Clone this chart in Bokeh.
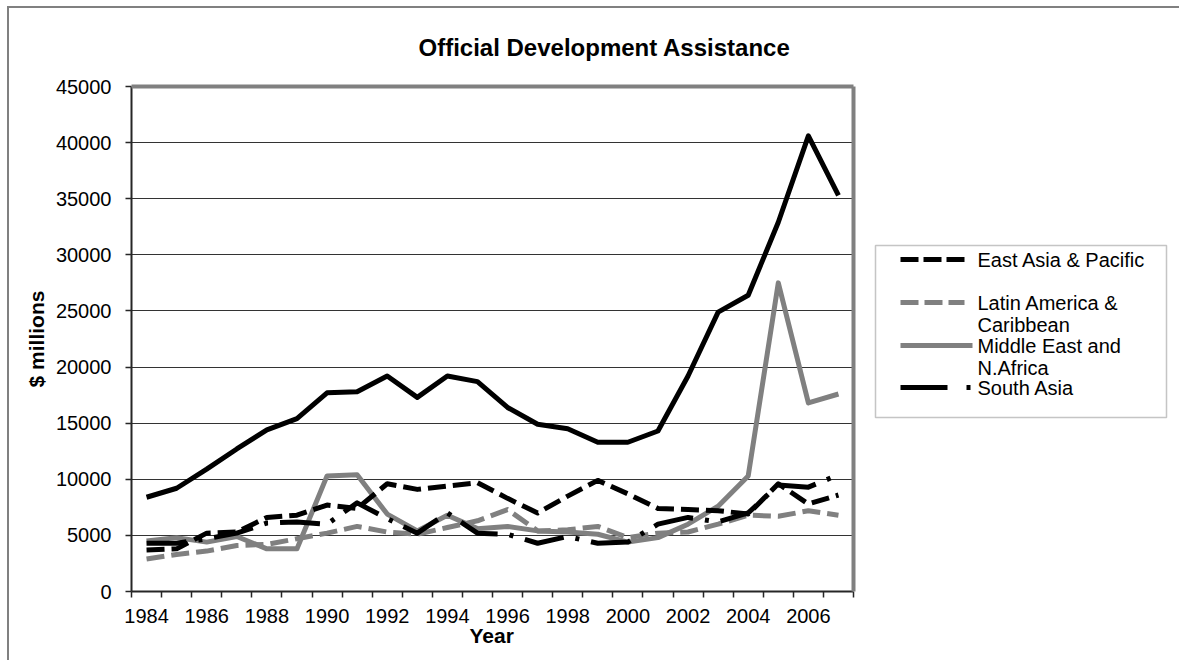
from bokeh.plotting import figure
from bokeh.models import FixedTicker, Label, BoxAnnotation, Arrow, Range1d, Title
from bokeh.embed import file_html
from bokeh.resources import INLINE

# ---------------- data ----------------
years = list(range(1984, 2008))
tick_years = list(range(1984, 2008, 2))
y_ticks = list(range(0, 45001, 5000))

sub_saharan = [8400, 9200, 10900, 12700, 14400, 15400, 17700, 17800, 19200, 17300, 19200, 18700,
               16400, 14900, 14500, 13300, 13300, 14300, 19200, 24900, 26400, 32900, 40600, 35300]
east_asia = [3700, 3800, 5200, 5300, 6600, 6800, 7700, 7400, 9600, 9100, 9400, 9700,
             8300, 7000, 8500, 9900, 8700, 7400, 7300, 7200, 6900, 9600, 7800, 8600]
south_asia = [4300, 4300, 4700, 5200, 6100, 6200, 6000, 7900, 6500, 5200, 7000, 5200,
              5100, 4300, 4900, 4300, 4400, 6000, 6600, 6200, 7000, 9500, 9300, 10400]
latin_america = [2900, 3300, 3600, 4100, 4200, 4700, 5200, 5800, 5300, 5100, 5700, 6300,
                 7300, 5400, 5500, 5800, 4800, 5200, 5300, 6000, 6800, 6700, 7200, 6800]
middle_east = [4500, 4800, 4400, 4900, 3800, 3800, 10300, 10400, 6900, 5400, 6800, 5600,
               5800, 5400, 5300, 5100, 4400, 4800, 6000, 7600, 10300, 27500, 16800, 17600]

legend_lines = [["East Asia & Pacific"], ["Latin America &", "Caribbean"],
                ["Middle East and", "N.Africa"], ["South Asia"]]

FONT = "Liberation Sans"
W, H = 1179, 660
# plot area (in page pixels): left, right, top, bottom
PL, PR, PT, PB = 131, 853, 86, 591
BLACK = "#000000"
GRAY = "#808080"

x0, x1 = years[0] - 0.5, years[-1] + 0.5
y0v, y1v = y_ticks[0], y_ticks[-1]
# the frame extends to the right edge so that the legend can live inside it;
# the plot area itself keeps the x extent x0..x1
x_end = x0 + (x1 - x0) * (W - PL) / (PR - PL)

p = figure(width=W, height=H, output_backend="svg", toolbar_location=None, title=None,
           x_range=Range1d(x0, x_end), y_range=Range1d(y0v, y1v),
           min_border_left=PL, min_border_right=0, min_border_top=PT, min_border_bottom=H - PB)
p.background_fill_color = "white"
p.background_fill_alpha = 1
p.border_fill_alpha = 0
p.outline_line_color = None
# outer chart border (left and top edges): two inset shadows of the host element
p.styles = {"box-shadow": "inset 7px 6px 0 0 #ffffff, inset 9px 8px 0 0 #808080"}

# chart title (left aligned with an offset inside the top panel)
p.add_layout(Title(text="Official Development Assistance", align="left", offset=287,
                   text_font=FONT, text_font_size="24px", text_font_style="bold",
                   text_color=BLACK, standoff=52), "above")
# x axis title, placed below the axis and centred on the plot area
p.add_layout(Title(text="Year", align="left", offset=(PR - PL) / 2 - 23,
                   text_font=FONT, text_font_size="21px", text_font_style="bold",
                   text_color=BLACK, standoff=-7), "below")

# series
p.line(years, sub_saharan, line_color=BLACK, line_width=5, line_join="round")
p.line(years, middle_east, line_color=GRAY, line_width=5, line_join="round")
p.line(years, latin_america, line_color=GRAY, line_width=5, line_dash="18 7", line_join="round")
p.line(years, east_asia, line_color=BLACK, line_width=5, line_dash="18 7", line_join="round")
p.line(years, south_asia, line_color=BLACK, line_width=5, line_dash="40 12 4 12", line_join="round")

# axes
xa = p.xaxis[0]
xa.bounds = (x0, x1)
xa.ticker = FixedTicker(ticks=tick_years, minor_ticks=[y - 0.5 for y in years] + [x1])
xa.major_tick_out = 0
xa.major_tick_in = 0
xa.minor_tick_out = 6
xa.minor_tick_in = 0
xa.minor_tick_line_color = "#262626"
xa.minor_tick_line_width = 1.5
xa.axis_line_color = "#262626"
xa.axis_line_width = 2
xa.major_label_standoff = 11
xa.major_label_text_font = FONT
xa.major_label_text_font_size = "20px"
xa.major_label_text_color = BLACK

ya = p.yaxis[0]
ya.bounds = (y0v, y1v)
ya.ticker = FixedTicker(ticks=y_ticks)
ya.minor_tick_line_color = None
ya.major_tick_out = 6
ya.major_tick_in = 0
ya.major_tick_line_color = "#262626"
ya.major_tick_line_width = 1.5
ya.axis_line_color = "#262626"
ya.axis_line_width = 2
ya.major_label_standoff = 14
ya.major_label_text_font = FONT
ya.major_label_text_font_size = "20px"
ya.major_label_text_color = BLACK
ya.axis_label = "$ millions"
ya.axis_label_text_font = FONT
ya.axis_label_text_font_size = "21px"
ya.axis_label_text_font_style = "bold"
ya.axis_label_text_color = BLACK
ya.axis_label_standoff = 5

p.xgrid.grid_line_color = None
p.ygrid.grid_line_color = "#333333"
p.ygrid.grid_line_width = 1

# ---- screen units are relative to the frame's bottom-left corner ----
def sx(x_page):
    return x_page - PL

def sy(y_page):
    return PB - y_page

# hide grid lines to the right of the plot area
p.add_layout(BoxAnnotation(left=x1, fill_color="white", fill_alpha=1,
                           line_color=None, line_alpha=0, level="annotation"))

# plot-area border (top and right), gray
p.segment(x0=[x0, x1], y0=[y1v, y0v], x1=[x1, x1], y1=[y1v, y1v],
          line_color=GRAY, line_width=4, level="overlay")

# legend box
p.add_layout(BoxAnnotation(left=sx(875), right=sx(1166), top=sy(245), bottom=sy(417),
                           left_units="screen", right_units="screen",
                           top_units="screen", bottom_units="screen",
                           fill_color="white", fill_alpha=1, line_color="#404040", line_width=1.5,
                           level="overlay"))

samples = [dict(line_color=BLACK, line_dash="18 5", end=964),
           dict(line_color=GRAY, line_dash="18 6", end=964),
           dict(line_color=GRAY, line_dash="solid", end=972),
           dict(line_color=BLACK, line_dash="47 19 4 100", end=971)]
first_line_y = [259, 302, 345, 387]
for lines, st, yy in zip(legend_lines, samples, first_line_y):
    p.add_layout(Arrow(x_start=sx(900), y_start=sy(yy), x_end=sx(st["end"]), y_end=sy(yy),
                       start_units="screen", end_units="screen", start=None, end=None,
                       line_width=5, line_color=st["line_color"], line_dash=st["line_dash"],
                       level="overlay"))
    for k, t in enumerate(lines):
        p.add_layout(Label(x=sx(977), y=sy(yy + 22 * k), x_units="screen", y_units="screen",
                           text=t, text_baseline="middle", text_align="left",
                           text_font=FONT, text_font_size="20px", text_color=BLACK,
                           level="overlay"))

open("out.html", "w").write(file_html(p, INLINE))
